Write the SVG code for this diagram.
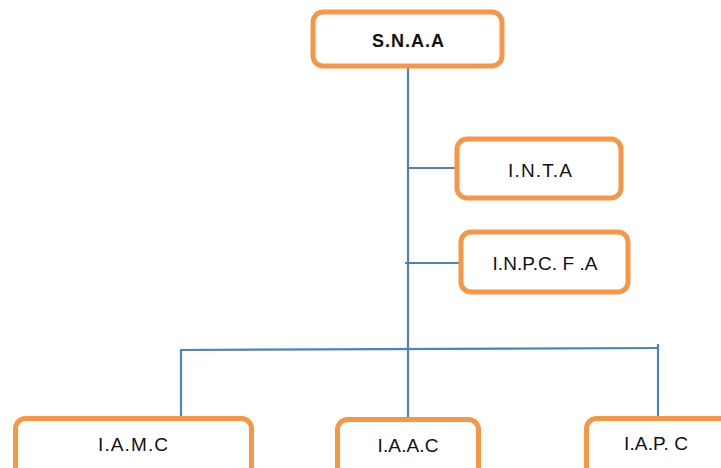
<svg xmlns="http://www.w3.org/2000/svg" width="721" height="468" viewBox="0 0 721 468">
<style>
.box{fill:#fff;stroke:#F79646;stroke-width:5}
.ln{stroke:#4F81BD;stroke-width:2.2;fill:none}
.t{font-family:"Liberation Sans","Open Sans",sans-serif;font-size:19px;fill:#111;text-anchor:middle}
.b{font-weight:bold;font-size:18px}
</style>
<rect width="721" height="468" fill="#fff"/>
<g id="connectors">
<path class="ln" d="M408 66 V418"/>
<path class="ln" d="M407 168 H457"/>
<path class="ln" d="M405 263 H461"/>
<path class="ln" d="M181 350 L659 348"/>
<path class="ln" d="M181 349 V418"/>
<path class="ln" d="M658 344 V417"/>
</g>
<g id="snaa"><rect class="box" x="313" y="12" width="189" height="54" rx="10"/><text class="t b" x="408" y="47" textLength="72" lengthAdjust="spacing">S.N.A.A</text></g>
<g id="inta"><rect class="box" x="457" y="139" width="164" height="59" rx="10"/><text class="t" x="540" y="177" textLength="64" lengthAdjust="spacing">I.N.T.A</text></g>
<g id="inpcfa"><rect class="box" x="461" y="232" width="167" height="60" rx="10"/><text class="t" x="545" y="270" textLength="105" lengthAdjust="spacing">I.N.P.C. F .A</text></g>
<g id="iamc"><rect class="box" x="15.5" y="418.5" width="236" height="60" rx="10"/><text class="t" x="133" y="451" textLength="70" lengthAdjust="spacing">I.A.M.C</text></g>
<g id="iaac"><rect class="box" x="337.5" y="419.5" width="141" height="60" rx="10"/><text class="t" x="408" y="452" textLength="61" lengthAdjust="spacing">I.A.A.C</text></g>
<g id="iapc"><rect class="box" x="586.5" y="418.5" width="150" height="60" rx="10"/><text class="t" x="656" y="450" textLength="64" lengthAdjust="spacing">I.A.P. C</text></g>
</svg>
